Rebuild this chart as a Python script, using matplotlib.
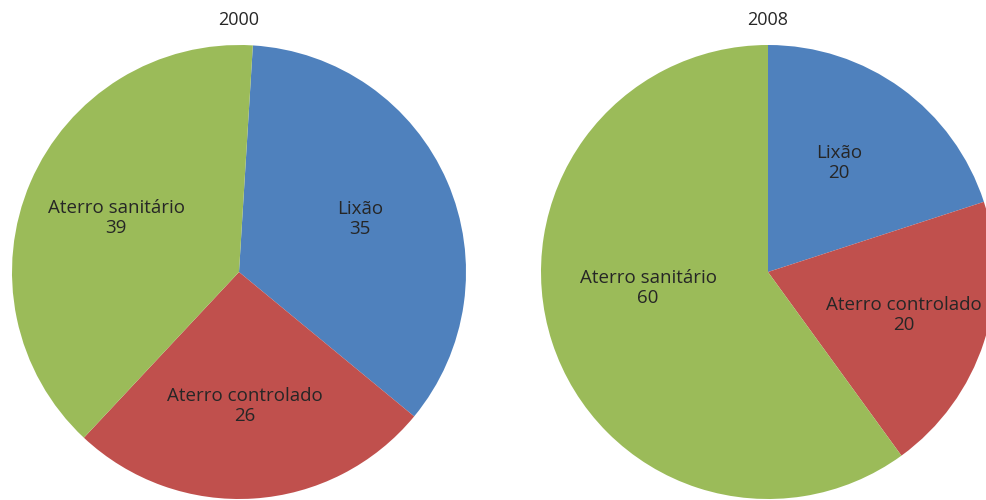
import matplotlib
matplotlib.use("Agg")
import matplotlib.pyplot as plt

categories = ["Lixão", "Aterro controlado", "Aterro sanitário"]
values_2000 = [35, 26, 39]
values_2008 = [20, 20, 60]
titles = ["2000", "2008"]
colors = ["#4F81BD", "#C0504D", "#9BBB59"]

plt.rcParams['font.family'] = ['Open Sans', 'DejaVu Sans']
txtcol = "#262626"

fig = plt.figure(figsize=(9.87, 5.0), dpi=100)
ax = fig.add_axes([0, 0, 1, 1])

R = 227
pies = [
    dict(vals=values_2000, center=(239, 228), start=86.5, title=titles[0],
         label_pos=[(360, 281), (245, 94), (116, 282)]),
    dict(vals=values_2008, center=(768, 228), start=90, title=titles[1],
         label_pos=[(839, 337), (904, 185), (648, 212)]),
]

for p in pies:
    ax.pie(p["vals"], colors=colors, startangle=p["start"], counterclock=False,
           center=p["center"], radius=R, frame=True,
           wedgeprops=dict(linewidth=0))
    ax.text(p["center"][0], 480, p["title"], ha="center", va="center",
            fontsize=13, color=txtcol)
    for (x, y), cat, v in zip(p["label_pos"], categories, p["vals"]):
        ax.text(x, y, f"{cat}\n{v}", ha="center", va="center", fontsize=13.5,
                color=txtcol, linespacing=1.1)

ax.set_xlim(0, 987)
ax.set_ylim(0, 500)
ax.set_aspect("auto")
ax.axis("off")

fig.savefig("out.png", dpi=100)
